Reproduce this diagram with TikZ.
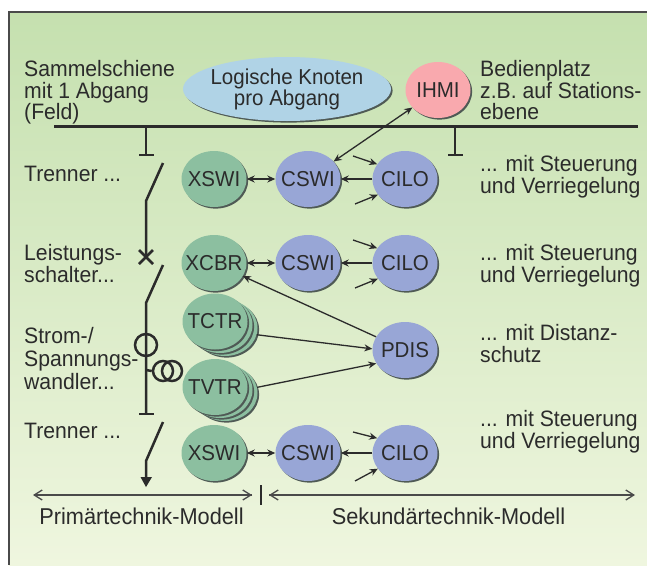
\documentclass[tikz,border=0pt]{standalone}
\usepackage{fontspec}
\setmainfont[FakeStretch=0.95]{Liberation Sans}
\usetikzlibrary{arrows.meta,shapes.geometric,shadows}
\definecolor{ink}{HTML}{2B2B2B}
\definecolor{framec}{HTML}{4A4A4A}
\definecolor{bgtop}{HTML}{C5E0AF}
\definecolor{bgbot}{HTML}{EFF6DF}
\definecolor{lngreen}{HTML}{8CBFA0}
\definecolor{lnblue}{HTML}{98A6D6}
\definecolor{lnpink}{HTML}{F9A9AE}
\definecolor{lnsky}{HTML}{B0D3E6}
\definecolor{shadowc}{HTML}{4F5A55}
\newcommand{\zb}[1]{\makebox[0pt][c]{#1}}
\tikzset{
  x=1pt,y=-1pt,
  lntext/.style={font=\fontsize{21.6}{22}\selectfont,text=ink},
  lnode/.style={ellipse,inner sep=0pt,minimum width=65pt,minimum height=56pt,lntext,
    drop shadow={shadow xshift=1.6pt,shadow yshift=-1.6pt,fill=shadowc,opacity=1}},
  greenn/.style={lnode,fill=lngreen},
  bluen/.style={lnode,fill=lnblue},
  lbl/.style={anchor=base west,inner sep=0pt,font=\fontsize{22.3}{22}\selectfont,text=ink},
  lblc/.style={lbl,anchor=base,font=\fontsize{22.9}{22}\selectfont},
  conn/.style={draw=ink,line width=1.3pt,-{Stealth[length=8pt,width=7pt]}},
  conn2/.style={draw=ink,line width=1.3pt,{Stealth[length=8pt,width=7pt]}-{Stealth[length=8pt,width=7pt]}},
  heavy/.style={draw=ink,line width=2.5pt},
  modelarrow/.style={draw=framec,line width=1.3pt,-{Straight Barb[length=8pt,width=10pt]}},
}
\begin{document}
\begin{tikzpicture}
\useasboundingbox (0,0) rectangle (647,565);
\fill[white] (0,0) rectangle (647,565);
\shade[top color=bgtop,bottom color=bgbot] (9,12) rectangle (647,565);
\draw[framec,line width=1.1pt] (9,565) -- (9,12) -- (647,12);

% labels left
\node[lbl] (a1) at (24,76) {Sammelschiene};
\node[lbl] (a2) at (24,98) {mit 1 Abgang};
\node[lbl] (a3) at (24,119) {(Feld)};
\node[lbl] (a4) at (24,181) {Trenner ...};
\node[lbl] (a5) at (24,260) {Leistungs-};
\node[lbl] (a6) at (24,282) {schalter...};
\node[lbl] (a7) at (24,343) {Strom-/};
\node[lbl] (a8) at (24,366) {Spannungs-};
\node[lbl] (a9) at (24,389) {wandler...};
\node[lbl] (a10) at (24,438) {Trenner ...};
% labels right
\node[lbl] (b1) at (480,76) {Bedienplatz};
\node[lbl] (b2) at (480,98) {z.B. auf Stations-};
\node[lbl] (b3) at (480,119) {ebene};
\node[lbl] (b4) at (480,171) {... mit Steuerung};
\node[lbl] (b5) at (480,193) {und Verriegelung};
\node[lbl] (b6) at (480,260) {... mit Steuerung};
\node[lbl] (b7) at (480,282) {und Verriegelung};
\node[lbl] (b8) at (480,340) {... mit Distanz-};
\node[lbl] (b9) at (480,362) {schutz};
\node[lbl] (b10) at (480,426) {... mit Steuerung};
\node[lbl] (b11) at (480,448) {und Verriegelung};
\node[lblc] (m1) at (141.5,524) {Primärtechnik-Modell};
\node[lblc] (m2) at (448.5,524) {Sekundärtechnik-Modell};

% logical nodes
\node[lnode,fill=lnsky,minimum width=208pt,minimum height=64pt,align=center] (lk) at (287,89)
  {\zb{Logische Knoten}\\[-1pt]\zb{pro Abgang}};
\node[lnode,fill=lnpink] (ihmi) at (438,90) {\zb{IHMI}};

\node[greenn] (xswia) at (214,179) {\zb{XSWI}};
\node[bluen] (cswia) at (308,179) {\zb{CSWI}};
\node[bluen] (giloa) at (405,179) {\zb{CILO}};
\node[greenn] (xcbr) at (214,263) {\zb{XCBR}};
\node[bluen] (cswib) at (308,263) {\zb{CSWI}};
\node[bluen] (cilob) at (405,263) {\zb{CILO}};
\node[greenn] (xswic) at (214,453) {\zb{XSWI}};
\node[bluen] (cswic) at (308,453) {\zb{CSWI}};
\node[bluen] (ciloc) at (405,453) {\zb{CILO}};
\node[bluen] (pdis) at (405,350) {\zb{PDIS}};

\node[greenn] (tctrc) at (225,328) {};
\node[greenn] (tctrb) at (220,325) {};
\node[greenn] (tctr) at (215,321.5) {\zb{TCTR}};
\node[greenn] (tvtrc) at (225,393) {};
\node[greenn] (tvtrb) at (220,390) {};
\node[greenn] (tvtr) at (215,387) {\zb{TVTR}};

% busbar and primary equipment
\coordinate (busl) at (54,126);
\coordinate (busr) at (638,126);
\draw[heavy,line width=3pt] (busl) -- (busr);
\coordinate (st1) at (146,155);
\coordinate (st2) at (455,155);
\draw[heavy] (146,126) -- (st1);
\draw[heavy] (139,155) -- (154,155);
\draw[heavy] (455,126) -- (st2);
\draw[heavy] (448,155) -- (463,155);

\coordinate (sw1) at (146,201);
\coordinate (cb) at (146,257);
\draw[heavy] (163,163) -- (sw1) -- (cb);
\draw[heavy] (139,250) -- (153,264);
\draw[heavy] (153,250) -- (139,264);
\coordinate (sw2) at (146,303);
\coordinate (ten) at (146,414);
\draw[heavy] (163,265) -- (sw2) -- (ten);
\draw[heavy] (139,414) -- (154,414);
\node[circle,draw=ink,line width=2.5pt,minimum size=22pt,inner sep=0pt] (ct) at (146,345) {};
\coordinate (vtj) at (146,370);
\node[circle,draw=ink,line width=2.5pt,minimum size=20pt,inner sep=0pt] (vt1) at (163,371) {};
\node[circle,draw=ink,line width=2.5pt,minimum size=20pt,inner sep=0pt] (vt2) at (172,371) {};
\draw[heavy] (vtj) -- (vt1.west);
\coordinate (sw3) at (146,461);
\coordinate (tip) at (146,487);
\draw[heavy] (163,422) -- (sw3) -- (146,478);
\fill[ink] (140.5,477) -- (152,477) -- (tip) -- cycle;

% connectors row 1
\draw[conn2] (xswia) -- (cswia);
\draw[conn] (giloa) -- (cswia);
\coordinate (in1a) at (353,156); \coordinate (in1b) at (355,204);
\draw[conn] (in1a) -- (giloa.152);
\draw[conn] (in1b) -- (giloa.210);
\draw[conn2] (ihmi) -- (cswia);
% row 2
\draw[conn2] (xcbr) -- (cswib);
\draw[conn] (cilob) -- (cswib);
\coordinate (in2a) at (353,240); \coordinate (in2b) at (355,288);
\draw[conn] (in2a) -- (cilob.152);
\draw[conn] (in2b) -- (cilob.210);
% row 3
\draw[conn2] (xswic) -- (cswic);
\draw[conn] (ciloc) -- (cswic);
\coordinate (in3a) at (353,432); \coordinate (in3b) at (355,481);
\draw[conn] (in3a) -- (ciloc.152);
\draw[conn] (in3b) -- (ciloc.210);
% PDIS
\draw[conn] (pdis) -- (xcbr);
\draw[conn] (tctrc.-12) -- (pdis.178);
\draw[conn] (tvtrc.10) -- (pdis.205);

% model span
\coordinate (mid) at (261,495);
\coordinate (ml) at (33,495);
\coordinate (mr) at (635,495);
\draw[modelarrow] (252,495) -- (ml);
\draw[modelarrow] (mid) ++(-43,0) -- (252,495);
\draw[modelarrow] (269,495) -- (mr);
\draw[modelarrow] (400,495) -- (269,495);
\draw[draw=ink,line width=1.1pt] (261,485) -- (261,505);
\end{tikzpicture}
\end{document}
